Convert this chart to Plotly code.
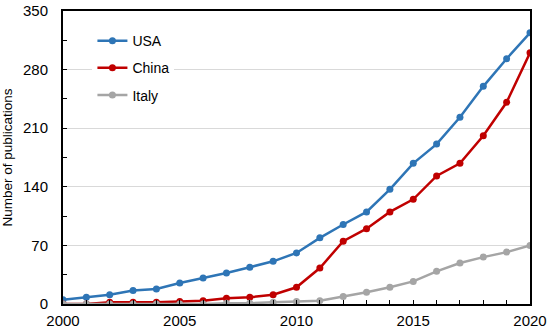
import plotly.graph_objects as go

years = list(range(2000, 2021))
usa = [5, 8, 11, 16, 18, 25, 31, 37, 44, 51, 61, 79, 95, 110, 137, 168, 191, 223, 260, 293, 324]
china = [0, 0, 2, 2, 2, 3, 4, 7, 8, 11, 20, 43, 75, 90, 110, 125, 153, 168, 201, 241, 300]
italy = [0, 0, 0, 0, 0, 0, 0, 1, 1, 2, 3, 4, 9, 14, 20, 27, 39, 49, 56, 62, 70]

series = [("USA", usa, "#2E75B6"), ("China", china, "#C00000"), ("Italy", italy, "#A5A5A5")]

fig = go.Figure()
for name, vals, col in series:
    fig.add_trace(go.Scatter(x=years, y=vals, name=name, mode="lines+markers",
                             legendgroup=name,
                             line=dict(color=col, width=2.5),
                             marker=dict(color=col, size=7)))

fig.update_layout(
    width=550, height=334,
    margin=dict(l=63, r=20, t=11, b=30),
    paper_bgcolor="white", plot_bgcolor="white",
    font=dict(family="Liberation Sans, Arial, sans-serif", size=15, color="black"),
    showlegend=True,
    legend=dict(x=0.063, y=0.952, xanchor="left", yanchor="top", bgcolor="white",
                font=dict(size=14), tracegroupgap=6, itemwidth=30),
    xaxis=dict(range=[2000, 2020], tickmode="linear", tick0=2000, dtick=5,
               showgrid=False, zeroline=False, automargin=False,
               showline=True, linecolor="black", linewidth=2, mirror=True,
               ticks="inside", ticklen=4, tickcolor="black", ticklabelstandoff=2,
               minor=dict(dtick=1, ticks="inside", ticklen=4, tickcolor="black", showgrid=False),
               tickfont=dict(size=15)),
    yaxis=dict(range=[0, 350], tickmode="linear", tick0=0, dtick=70,
               showgrid=True, gridcolor="#D9D9D9", gridwidth=1, zeroline=False,
               automargin=False,
               showline=True, linecolor="black", linewidth=2, mirror=True,
               ticks="inside", ticklen=4, tickcolor="black", ticklabelstandoff=10,
               minor=dict(dtick=35, ticks="inside", ticklen=4, tickcolor="black", showgrid=False),
               title=dict(text="Number of publications", font=dict(size=13.5), standoff=8),
               tickfont=dict(size=15)),
)

fig.write_html("out.html", config={"displayModeBar": False},
               post_script="document.body.style.margin='0';")
